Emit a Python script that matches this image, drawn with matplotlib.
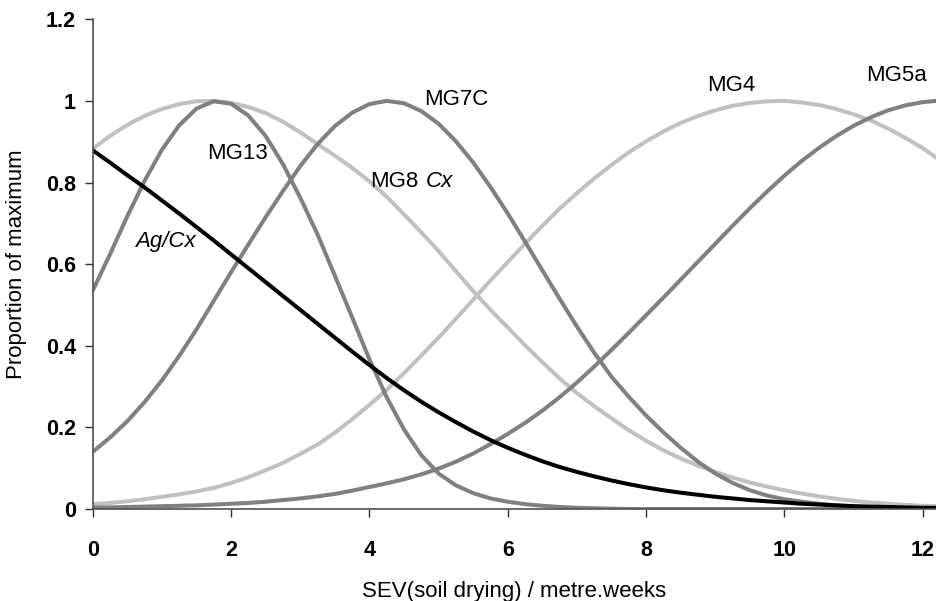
import matplotlib

matplotlib.use("Agg")
import matplotlib.pyplot as plt

sev = [0.0, 0.25, 0.5, 0.75, 1.0, 1.25, 1.5, 1.75, 2.0, 2.25, 2.5, 2.75,
       3.0, 3.25, 3.5, 3.75, 4.0, 4.25, 4.5, 4.75, 5.0, 5.25, 5.5, 5.75,
       6.0, 6.25, 6.5, 6.75, 7.0, 7.25, 7.5, 7.75, 8.0, 8.25, 8.5, 8.75,
       9.0, 9.25, 9.5, 9.75, 10.0, 10.25, 10.5, 10.75, 11.0, 11.25, 11.5, 11.75,
       12.0, 12.2]

ag_cx = [0.879, 0.849, 0.818, 0.788, 0.756, 0.724, 0.691, 0.658, 0.624, 0.590, 0.556, 0.522,
         0.488, 0.454, 0.420, 0.386, 0.353, 0.321, 0.291, 0.263, 0.237, 0.213, 0.190, 0.169,
         0.150, 0.133, 0.117, 0.103, 0.091, 0.080, 0.070, 0.061, 0.053, 0.046, 0.040, 0.035,
         0.030, 0.026, 0.022, 0.019, 0.016, 0.013, 0.011, 0.009, 0.007, 0.006, 0.005, 0.004,
         0.003, 0.003]
mg13 = [0.535, 0.624, 0.717, 0.804, 0.880, 0.940, 0.981, 0.999, 0.993, 0.964, 0.914, 0.845,
        0.763, 0.673, 0.572, 0.470, 0.367, 0.274, 0.195, 0.132, 0.087, 0.058, 0.039, 0.026,
        0.018, 0.012, 0.008, 0.005, 0.003, 0.002, 0.001, 0.0, 0.0, 0.0, 0.0, 0.0,
        0.0, 0.0, 0.0, 0.0, 0.0, 0.0, 0.0, 0.0, 0.0, 0.0, 0.0, 0.0,
        0.0, 0.0]
mg8_cx = [0.883, 0.914, 0.941, 0.963, 0.980, 0.992, 0.999, 1.0, 0.995, 0.985, 0.970, 0.949,
          0.923, 0.894, 0.866, 0.836, 0.803, 0.765, 0.722, 0.678, 0.632, 0.583, 0.534, 0.488,
          0.445, 0.401, 0.360, 0.320, 0.284, 0.252, 0.222, 0.193, 0.167, 0.144, 0.124, 0.106,
          0.091, 0.077, 0.065, 0.055, 0.046, 0.038, 0.031, 0.025, 0.020, 0.016, 0.013, 0.010,
          0.008, 0.007]
mg7c = [0.140, 0.175, 0.215, 0.262, 0.315, 0.375, 0.440, 0.510, 0.580, 0.648, 0.715, 0.779,
        0.840, 0.894, 0.938, 0.971, 0.992, 1.0, 0.994, 0.975, 0.944, 0.901, 0.849, 0.789,
        0.724, 0.655, 0.585, 0.515, 0.447, 0.383, 0.324, 0.275, 0.229, 0.188, 0.150, 0.116,
        0.087, 0.064, 0.046, 0.033, 0.024, 0.018, 0.013, 0.009, 0.0065, 0.0045, 0.003, 0.002,
        0.0015, 0.001]
mg4 = [0.012, 0.015, 0.019, 0.024, 0.030, 0.036, 0.043, 0.052, 0.064, 0.078, 0.095, 0.113,
       0.135, 0.158, 0.187, 0.220, 0.255, 0.292, 0.333, 0.376, 0.420, 0.466, 0.513, 0.560,
       0.605, 0.650, 0.694, 0.736, 0.774, 0.810, 0.843, 0.874, 0.901, 0.925, 0.946, 0.963,
       0.977, 0.988, 0.995, 0.999, 1.0, 0.996, 0.990, 0.980, 0.967, 0.952, 0.932, 0.909,
       0.884, 0.860]
mg5a = [0.004, 0.004, 0.005, 0.006, 0.007, 0.008, 0.009, 0.011, 0.013, 0.015, 0.018, 0.022,
        0.026, 0.031, 0.037, 0.045, 0.054, 0.063, 0.073, 0.085, 0.099, 0.116, 0.136, 0.159,
        0.184, 0.211, 0.241, 0.274, 0.310, 0.349, 0.390, 0.432, 0.475, 0.518, 0.562, 0.606,
        0.650, 0.694, 0.737, 0.778, 0.817, 0.853, 0.885, 0.914, 0.939, 0.960, 0.977, 0.989,
        0.997, 1.0]

LIGHT = "#c0c0c0"
DARK = "#808080"

plt.rcParams["font.family"] = ["Liberation Sans", "DejaVu Sans"]

fig = plt.figure(figsize=(9.36, 6.01), dpi=100)
ax = fig.add_axes([0.099, 0.153, 0.901, 0.815])

lw = 2.9
ax.plot(sev, mg8_cx, color=LIGHT, lw=lw)
ax.plot(sev, mg4, color=LIGHT, lw=lw)
ax.plot(sev, mg13, color=DARK, lw=lw)
ax.plot(sev, mg7c, color=DARK, lw=lw)
ax.plot(sev, mg5a, color=DARK, lw=lw)
ax.plot(sev, ag_cx, color="black", lw=lw)

fs = 16
ax.text(2.1, 0.872, "MG13", fontsize=fs, ha="center", va="center")
ax.text(0.61, 0.656, "Ag/Cx", fontsize=fs, style="italic", ha="left", va="center")
ax.text(5.26, 1.003, "MG7C", fontsize=fs, ha="center", va="center")
ax.text(4.01, 0.803, "MG8", fontsize=fs, ha="left", va="center")
ax.text(4.82, 0.803, "Cx", fontsize=fs, style="italic", ha="left", va="center")
ax.text(9.23, 1.038, "MG4", fontsize=fs, ha="center", va="center")
ax.text(11.62, 1.062, "MG5a", fontsize=fs, ha="center", va="center")

ax.set_xlim(0, 12.19)
ax.set_ylim(0, 1.2)
ax.set_xticks(range(0, 13, 2))
ax.set_yticks([0, 0.2, 0.4, 0.6, 0.8, 1.0, 1.2], ["0", "0.2", "0.4", "0.6", "0.8", "1", "1.2"])
for lab in ax.get_xticklabels() + ax.get_yticklabels():
    lab.set_fontweight("bold")
ax.tick_params(axis="x", direction="out", length=6, width=1, pad=16, labelsize=15.5, color="#303030")
ax.tick_params(axis="y", direction="out", length=6, width=1, pad=6, labelsize=15.5, color="#303030")

for side in ("top", "right"):
    ax.spines[side].set_visible(False)
for side in ("left", "bottom"):
    ax.spines[side].set_color("#505050")
    ax.spines[side].set_linewidth(1.2)

ax.set_xlabel("SEV(soil drying) / metre.weeks", fontsize=16)
ax.set_ylabel("Proportion of maximum", fontsize=16)
ax.xaxis.set_label_coords(0.5, -0.147)
ax.yaxis.set_label_coords(-0.078, 0.5)

fig.savefig("out.png", dpi=100)
